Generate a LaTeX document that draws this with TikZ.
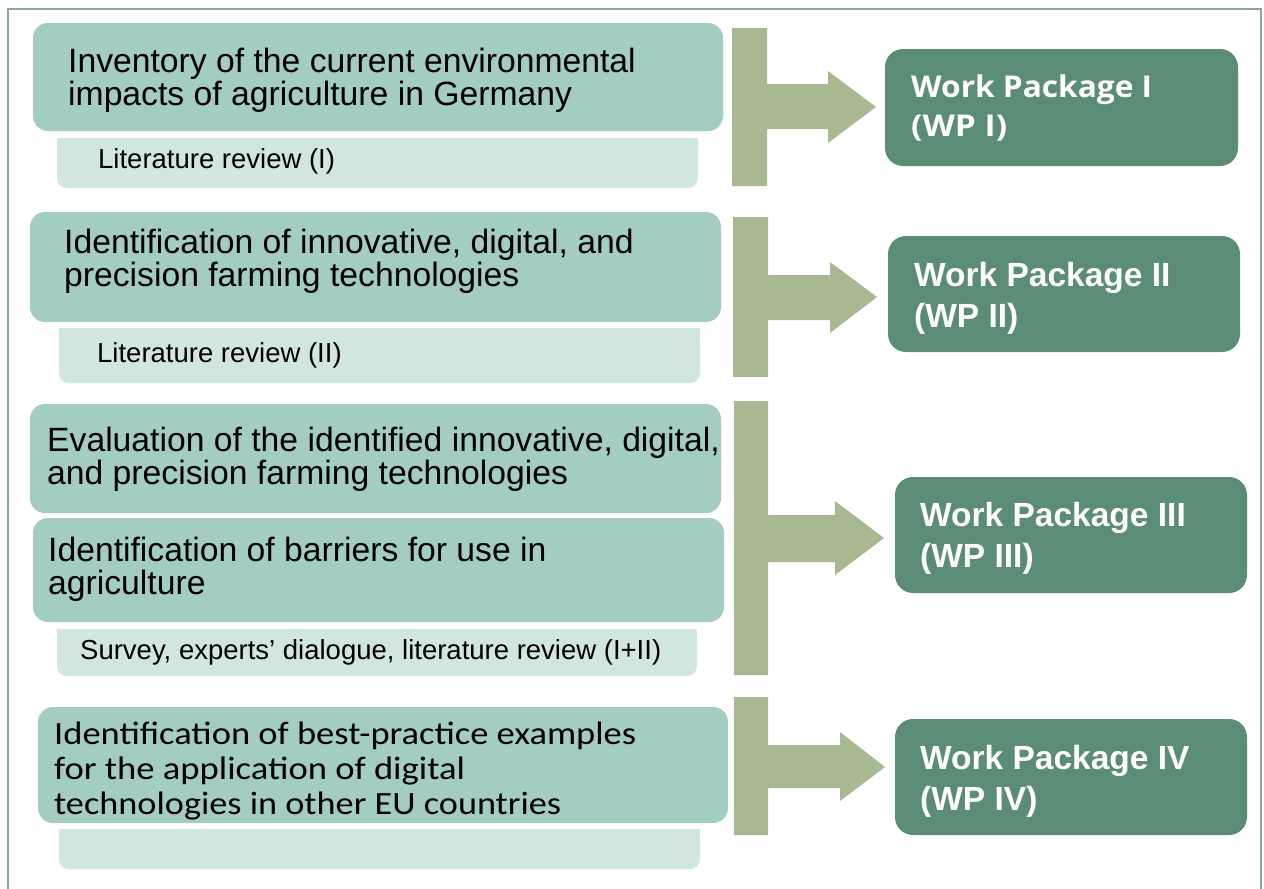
\documentclass[tikz,border=0pt]{standalone}
\usepackage{fontspec}
\setmainfont{Liberation Sans}
\newfontfamily\opensans{Open Sans}
\newfontfamily\carlito{Carlito}
\usepackage{graphicx}
\usetikzlibrary{fit}
\definecolor{mainc}{HTML}{A3CCC3}
\definecolor{subc}{HTML}{D1E5E1}
\definecolor{barc}{HTML}{A8B992}
\definecolor{wpc}{HTML}{5B8D74}
\definecolor{framec}{HTML}{8DA696}
\newlength\fitlen
\newcommand\fitx[2]{\settowidth\fitlen{#2}\scalebox{\fpeval{#1/\fitlen}}[1]{#2}}
\newcommand\blk[1]{\parbox[t]{700pt}{\raggedright #1}}
\begin{document}
\begin{tikzpicture}[x=1pt,y=-1pt,
  mainbox/.style={fill=mainc, draw=none, rounded corners=15pt, inner sep=0pt},
  subbox/.style={fill=subc, draw=none, rounded corners=10pt, inner sep=0pt},
  wpbox/.style={fill=wpc, draw=none, rounded corners=18pt, inner sep=0pt},
  bararrow/.style={fill=barc, draw=none},
  mtxt/.style={anchor=base west, inner sep=0pt, text=black, font=\fontsize{33.7}{33.5}\selectfont},
  stxt/.style={anchor=base west, inner sep=0pt, text=black, font=\fontsize{27.5}{30}\selectfont},
  wtxt/.style={anchor=base west, inner sep=0pt, text=white, font=\fontsize{33.5}{41}\selectfont\bfseries},
]
\useasboundingbox (0,0) rectangle (1264,889);
\fill[white] (0,0) rectangle (1264,889);
\draw[framec, line width=2.5pt] (8,889) -- (8,9) -- (1261,9) -- (1261,889);

% ---------- row 1
\node[mainbox, fit={(33,23)(723,131)}] (m1) {};
\node[subbox, fit={(57,138)(698,188)}] (s1) {};
\fill[subc] (s1.north west) rectangle ([yshift=-14pt]s1.north east);
\node[mtxt] (m1t) at (68,72) {\blk{Inventory of the current environmental\\impacts of agriculture in Germany}};
\node[stxt] (s1t) at (98,168) {Literature review (I)};
\fill[bararrow] (732,28) -- (767,28) -- (767,84) -- (828,84) -- (828,71) -- (876,107) -- (828,143) -- (828,129) -- (767,129) -- (767,186) -- (732,186) -- cycle;
\node[wpbox, fit={(885,49)(1238,166)}] (w1) {};
\node[wtxt, font=\fontsize{30}{39}\selectfont\opensans\bfseries] (w1t) at (911,97) {\blk{\fitx{241}{Work Package I}\\\fitx{96}{(WP I)}}};

% ---------- row 2
\node[mainbox, fit={(30,212)(721,322)}] (m2) {};
\node[subbox, fit={(59,328)(700,383)}] (s2) {};
\fill[subc] (s2.north west) rectangle ([yshift=-14pt]s2.north east);
\node[mtxt] (m2t) at (64,253) {\blk{Identification of innovative, digital, and\\precision farming technologies}};
\node[stxt] (s2t) at (97,362) {Literature review (II)};
\fill[bararrow] (733,217) -- (768,217) -- (768,275) -- (830,275) -- (830,262) -- (877,297) -- (830,333) -- (830,320) -- (768,320) -- (768,377) -- (733,377) -- cycle;
\node[wpbox, fit={(888,236)(1240,352)}] (w2) {};
\node[wtxt] (w2t) at (914,286) {\blk{Work Package II\\(WP II)}};

% ---------- row 3
\node[mainbox, fit={(30,404)(721,513)}] (m3a) {};
\node[mainbox, fit={(33,518)(724,622)}] (m3b) {};
\node[subbox, fit={(57,629)(697,676)}] (s3) {};
\fill[subc] (s3.north west) rectangle ([yshift=-14pt]s3.north east);
\node[mtxt] (m3at) at (47,451) {\blk{Evaluation of the identified innovative, digital,\\and precision farming technologies}};
\node[mtxt] (m3bt) at (48,561) {\blk{Identification of barriers for use in\\agriculture}};
\node[stxt] (s3t) at (80,659) {Survey, experts’ dialogue, literature review (I+II)};
\fill[bararrow] (734,401) -- (768,401) -- (768,515) -- (835,515) -- (835,501) -- (884,538) -- (835,575) -- (835,562) -- (768,562) -- (768,675) -- (734,675) -- cycle;
\node[wpbox, fit={(895,477)(1247,593)}] (w3) {};
\node[wtxt] (w3t) at (920,526) {\blk{Work Package III\\(WP III)}};

% ---------- row 4
\node[mainbox, fit={(38,707)(728,823)}] (m4) {};
\node[subbox, fit={(59,829)(700,869)}] (s4) {};
\fill[subc] (s4.north west) rectangle ([yshift=-14pt]s4.north east);
\node[mtxt, font=\fontsize{32.5}{35}\selectfont\carlito] (m4t) at (54,744) {\blk{\fitx{582}{Identification of best-practice examples}\\\fitx{411}{for the application of digital}\\\fitx{507}{technologies in other EU countries}}};
\fill[bararrow] (734,697) -- (768,697) -- (768,745) -- (840,745) -- (840,732) -- (885,767) -- (840,801) -- (840,788) -- (768,788) -- (768,835) -- (734,835) -- cycle;
\node[wpbox, fit={(895,719)(1247,835)}] (w4) {};
\node[wtxt] (w4t) at (920,769) {\blk{Work Package IV\\(WP IV)}};
\end{tikzpicture}
\end{document}
